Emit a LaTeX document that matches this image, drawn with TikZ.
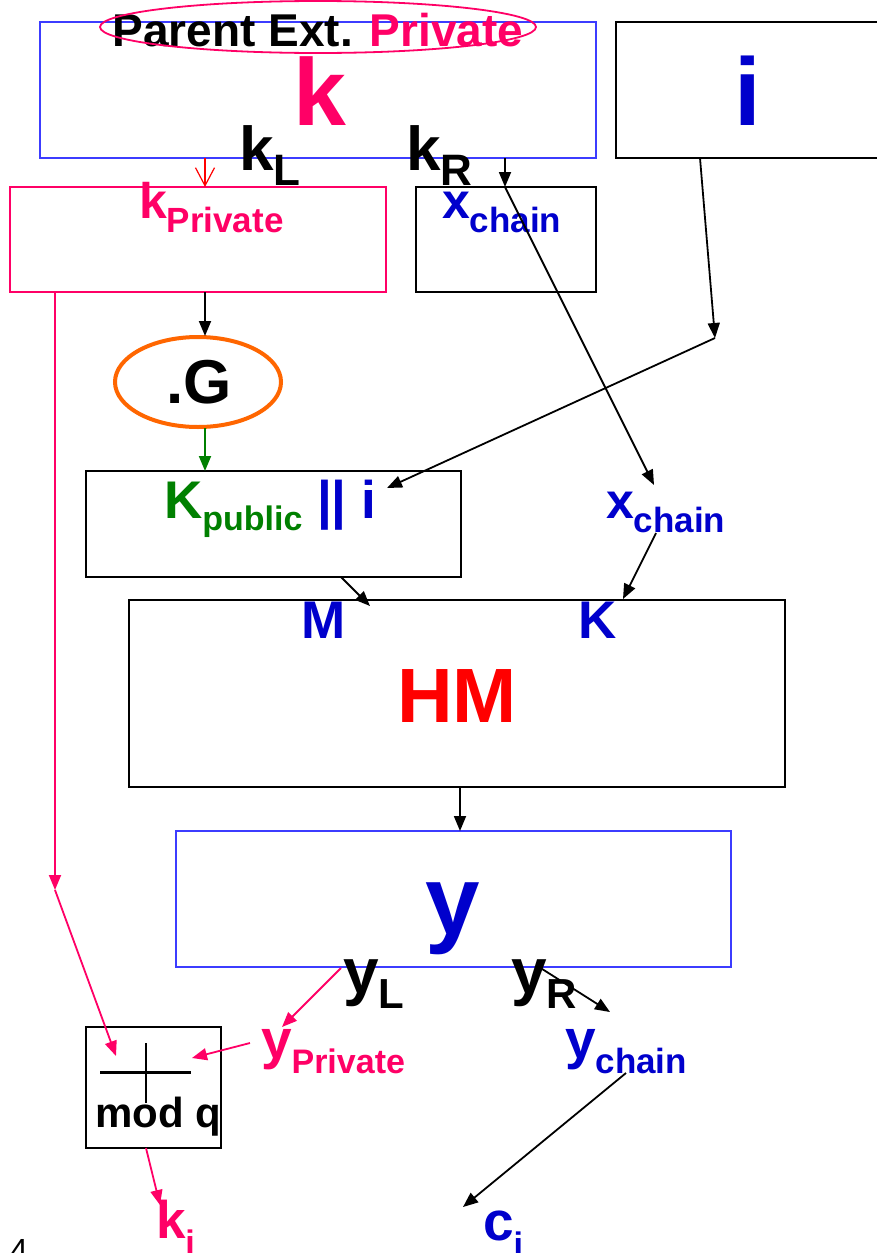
\documentclass[tikz,border=0pt]{standalone}
\usepackage{fontspec}
\setmainfont{Liberation Sans}
\usetikzlibrary{arrows.meta,shapes.geometric}
\definecolor{mag}{RGB}{255,0,102}
\definecolor{tblue}{RGB}{0,0,204}
\definecolor{bblue}{RGB}{60,60,255}
\definecolor{hmred}{RGB}{255,0,0}
\definecolor{grn}{RGB}{0,128,0}
\definecolor{orng}{RGB}{255,102,0}
\newcommand{\fs}[1]{\fontsize{#1}{#1}\selectfont}
\begin{document}
\begin{tikzpicture}[x=1pt,y=-1pt,
  box/.style={draw, line width=2pt, inner sep=0, outer sep=0, anchor=north west},
  lbl/.style={inner sep=0, outer sep=0, anchor=base west, font=\bfseries},
  clbl/.style={inner sep=0, outer sep=0, anchor=base, font=\bfseries},
  arr/.style={line width=1.8pt, -{Triangle[length=15pt,width=12pt]}},
]
\useasboundingbox (0,0) rectangle (876,1253);
\fill[white] (0,0) rectangle (876,1253);

% boxes
\node[box, draw=bblue, minimum width=556pt, minimum height=136pt] (topk) at (40,22) {};
\node[box, minimum width=280pt, minimum height=136pt] (ibox) at (616,22) {};
\node[box, draw=mag, minimum width=376pt, minimum height=105pt] (kpbox) at (10,187) {};
\node[box, minimum width=180pt, minimum height=105pt] (xcbox) at (416,187) {};
\node[draw=orng, ellipse, line width=4pt, inner sep=0, minimum width=166pt, minimum height=90pt] (gell) at (198,382) {};
\node[box, minimum width=375pt, minimum height=106pt] (kpubbox) at (86,471) {};
\node[box, minimum width=656pt, minimum height=187pt] (hmbox) at (129,600) {};
\node[box, draw=bblue, minimum width=555pt, minimum height=136pt] (ybox) at (176,831) {};
\node[box, minimum width=135pt, minimum height=121pt] (modbox) at (86,1027) {};

% labels
\node[clbl, font=\bfseries\fs{46}] (ptitle) at (318,46) {Parent Ext. \textcolor{mag}{Private}};
\node[draw=mag, ellipse, line width=1.8pt, inner sep=0, minimum width=436pt, minimum height=52pt] (pell) at (318,27) {};
\node[clbl, font=\bfseries\fs{95}, text=mag] (bigk) at (320,125) {k};
\node[lbl] (kL) at (239,170) {{\fs{62}k}\raisebox{-15pt}{\fs{44}L}};
\node[lbl] (kR) at (406,170) {{\fs{62}k}\raisebox{-15pt}{\fs{44}R}};
\node[clbl, font=\bfseries\fs{96}, text=tblue] (bigi) at (748,125) {i};
\node[lbl, text=mag] (kpriv) at (139,218) {{\fs{50}k}\raisebox{-14pt}{\fs{35}Private}};
\node[lbl, text=tblue] (xch1) at (442,218) {{\fs{50}x}\raisebox{-14pt}{\fs{35}chain}};
\node[clbl, font=\bfseries\fs{62}] (dotG) at (199,403) {.G};
\node[lbl] (kpub) at (164,518) {\textcolor{grn}{{\fs{53}K}\raisebox{-12pt}{\fs{34}public}}\textcolor{tblue}{\fs{53} || i}};
\node[lbl, text=tblue] (xch2) at (606,518) {{\fs{50}x}\raisebox{-14pt}{\fs{35}chain}};
\node[clbl, font=\bfseries\fs{53}, text=tblue] (labM) at (324,638) {M};
\node[clbl, font=\bfseries\fs{53}, text=tblue] (labK) at (598,638) {K};
\node[clbl, font=\bfseries\fs{77}, text=hmred] (labHM) at (457,722) {HM};
\node[clbl, font=\bfseries\fs{98}, text=tblue] (bigy) at (453,934) {y};
\node[lbl] (yL) at (343,993) {{\fs{64}y}\raisebox{-15pt}{\fs{42}L}};
\node[lbl] (yR) at (511,993) {{\fs{64}y}\raisebox{-15pt}{\fs{42}R}};
\node[lbl, text=mag] (ypriv) at (261,1058) {{\fs{55}y}\raisebox{-15pt}{\fs{34}Private}};
\node[lbl, text=tblue] (ych) at (565,1058) {{\fs{55}y}\raisebox{-15pt}{\fs{35}chain}};
\node[lbl, font=\bfseries\fs{42}] (modq) at (95,1127) {mod q};
\node[lbl, text=mag] (ki) at (156,1238) {{\fs{53}k}\raisebox{-16pt}{\fs{34}i}};
\node[lbl, text=tblue] (ci) at (483,1240) {{\fs{55}c}\raisebox{-16pt}{\fs{34}i}};
\node[inner sep=0, anchor=base west, font=\fs{32}] (four) at (10,1261) {4};

% plus sign in mod q box
\draw[line width=3pt] (100,1072) -- (191,1072);
\draw[line width=1.2pt] (146,1043) -- (146,1103);

% coordinates
\coordinate (r1) at (205,158);
\coordinate (r2) at (205,187);
\coordinate (b1) at (505,158);
\coordinate (b2) at (505,187);
\coordinate (xc2top) at (654,485);
\coordinate (i1) at (700,158);
\coordinate (ij) at (715,338);
\coordinate (kpubi) at (387,488);
\coordinate (kp1) at (205,292);
\coordinate (g1) at (205,336);
\coordinate (g2) at (205,428);
\coordinate (g3) at (205,471);
\coordinate (m1) at (341,577);
\coordinate (m2) at (370,606);
\coordinate (k1) at (656,533);
\coordinate (k2) at (623,599);
\coordinate (h1) at (460,787);
\coordinate (h2) at (460,831);
\coordinate (p1) at (55,292);
\coordinate (p2) at (55,890);
\coordinate (p3) at (116,1056);
\coordinate (yl1) at (341,968);
\coordinate (yl2) at (282,1027);
\coordinate (yr1) at (539,967);
\coordinate (yr2) at (610,1012);
\coordinate (yp1) at (250,1043);
\coordinate (yp2) at (192,1058);
\coordinate (mq1) at (146,1148);
\coordinate (mq2) at (160,1205);
\coordinate (yc1) at (626,1073);
\coordinate (yc2) at (463,1207);

% connectors
\draw[line width=1.2pt, draw=hmred, -{Straight Barb[length=18pt,width=19pt]}] (r1) -- (r2);
\draw[arr] (b1) -- (b2);
\draw[arr] (b2) -- (xc2top);
\draw[arr] (i1) -- (ij);
\draw[arr] (ij) -- (kpubi);
\draw[arr] (kp1) -- (g1);
\draw[arr, draw=grn, fill=grn] (g2) -- (g3);
\draw[arr] (m1) -- (m2);
\draw[arr] (k1) -- (k2);
\draw[arr] (h1) -- (h2);
\draw[arr, draw=mag, fill=mag] (p1) -- (p2);
\draw[arr, draw=mag, fill=mag] (p2) -- (p3);
\draw[arr, draw=mag, fill=mag] (yl1) -- (yl2);
\draw[arr] (yr1) -- (yr2);
\draw[arr, draw=mag, fill=mag] (yp1) -- (yp2);
\draw[arr, draw=mag, fill=mag] (mq1) -- (mq2);
\draw[arr] (yc1) -- (yc2);
\end{tikzpicture}
\end{document}
